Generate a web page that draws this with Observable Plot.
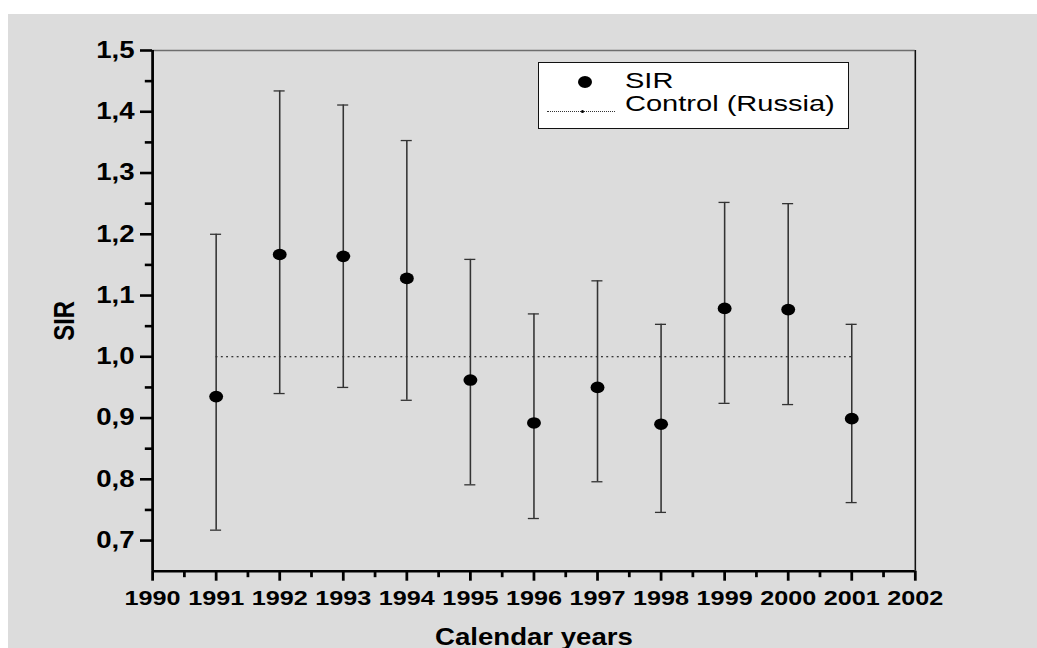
<!DOCTYPE html>
<html>
<head>
<meta charset="utf-8">
<script src="https://cdn.jsdelivr.net/npm/d3@7"></script>
<script src="https://cdn.jsdelivr.net/npm/@observablehq/plot@0.6"></script>
<style>
  html, body { margin: 0; padding: 0; background: #ffffff; }
  #page { position: relative; width: 1037px; height: 648px; overflow: hidden; background: #fff; }
  #panel { position: absolute; left: 8px; top: 14px; width: 1029px; height: 634px; background: #dcdcdc; }
  #legend { position: absolute; left: 530px; top: 48px; width: 311px; height: 67px; box-sizing: border-box;
            background: #fff; border: 1.5px solid #111; font-family: 'Liberation Sans', Arial, sans-serif; }
  #legend .txt { position: absolute; left: 86px; font-size: 22px; line-height: 22px; white-space: nowrap;
                 transform: scaleX(1.32); transform-origin: 0 50%; color: #000; }
  #legend .bigdot { position: absolute; left: 39px; top: 12.5px; width: 14px; height: 12px; border-radius: 50%; background: #000; }
  #legend .dline { position: absolute; left: 8px; top: 48px; width: 68px; height: 0; border-top: 1px dotted #333; }
  #legend .smalldot { position: absolute; left: 42px; top: 47px; width: 3px; height: 3px; border-radius: 50%; background: #000; }
</style>
</head>
<body>
<div id="page"><div id="panel"><div id="chart"></div>
  <div id="legend">
    <div class="bigdot"></div><div class="txt" id="lg1" style="top:6.5px"></div>
    <div class="dline"></div><div class="smalldot"></div><div class="txt" id="lg2" style="top:30px"></div>
  </div>
</div></div>
<script>
// ---- data ----
const years = [1991, 1992, 1993, 1994, 1995, 1996, 1997, 1998, 1999, 2000, 2001];
const sir   = [0.935, 1.167, 1.164, 1.128, 0.962, 0.892, 0.950, 0.890, 1.079, 1.077, 0.899];
const lower = [0.717, 0.940, 0.950, 0.929, 0.791, 0.736, 0.796, 0.746, 0.924, 0.922, 0.762];
const upper = [1.200, 1.434, 1.411, 1.353, 1.159, 1.070, 1.124, 1.053, 1.252, 1.250, 1.053];
const controlValue = 1.0;
const xTicks = [1990, 1991, 1992, 1993, 1994, 1995, 1996, 1997, 1998, 1999, 2000, 2001, 2002];
const xMinorTicks = [1990.5, 1991.5, 1992.5, 1993.5, 1994.5, 1995.5, 1996.5, 1997.5, 1998.5, 1999.5, 2000.5, 2001.5];
const yTicks = [0.7, 0.8, 0.9, 1.0, 1.1, 1.2, 1.3, 1.4, 1.5];
const yMinorTicks = [0.75, 0.85, 0.95, 1.05, 1.15, 1.25, 1.35, 1.45];
const xDomain = [1990, 2002];
const yDomain = [0.65, 1.5];
const xTitle = "Calendar years";
const yTitle = "SIR";
const legendLabels = ["SIR", "Control (Russia)"];

const data = years.map((year, i) => ({year, sir: sir[i], lo: lower[i], hi: upper[i]}));

// ---- layout ----
const W = 1029, H = 634, SX = 1.2;   // reference is horizontally stretched
const PW = W / SX;
const capHalf = 0.087;
const commaFmt = d => d.toFixed(1).replace(".", ",");

const chart = Plot.plot({
  width: PW,
  height: H,
  marginLeft: 120,
  marginRight: PW - 755.6,
  marginTop: 36,
  marginBottom: 77.3,
  x: {domain: xDomain, label: null},
  y: {domain: yDomain, label: null},
  style: {background: "transparent", fontFamily: "'Liberation Sans', Arial, sans-serif", color: "#000", overflow: "visible"},
  marks: [
    Plot.ruleY([yDomain[1]], {stroke: "#6e6e6e", strokeWidth: 1.6}),
    Plot.ruleX([xDomain[1]], {stroke: "#111", strokeWidth: 1.3}),
    Plot.ruleY([controlValue], {x1: years[0], x2: years[years.length - 1], stroke: "#000", strokeWidth: 1, strokeDasharray: "1.6 2.8"}),
    Plot.ruleX(data, {x: "year", y1: "lo", y2: "hi", stroke: "#333", strokeWidth: 1.3}),
    Plot.ruleY(data, {y: "hi", x1: d => d.year - capHalf, x2: d => d.year + capHalf, stroke: "#333", strokeWidth: 1.3}),
    Plot.ruleY(data, {y: "lo", x1: d => d.year - capHalf, x2: d => d.year + capHalf, stroke: "#333", strokeWidth: 1.3}),
    Plot.dot(data, {x: "year", y: "sir", r: 5.8, fill: "#000", stroke: null}),
    // axes lines
    Plot.ruleX([xDomain[0]], {stroke: "#000", strokeWidth: 2.3}),
    Plot.ruleY([yDomain[0]], {stroke: "#000", strokeWidth: 2.6}),
    // x axis
    Plot.axisX({ticks: xTicks, tickFormat: d => String(d), tickSize: 10, tickPadding: 9, fontSize: 21, fontWeight: "bold", strokeWidth: 2.3, label: null}),
    Plot.axisX({ticks: xMinorTicks, tickFormat: () => "", tickSize: 6.5, strokeWidth: 2.3, label: null}),
    // y axis
    Plot.axisY({ticks: yTicks, tickFormat: commaFmt, tickSize: 10, tickPadding: 5, fontSize: 23, fontWeight: "bold", strokeWidth: 2.6, label: null}),
    Plot.axisY({ticks: yMinorTicks, tickFormat: () => "", tickSize: 6, strokeWidth: 2.6, label: null}),
    // titles
    Plot.text([xTitle], {text: d => d, frameAnchor: "bottom", dy: 66, fontSize: 23, fontWeight: "bold", lineAnchor: "middle", fill: "#000"}),
    Plot.text([yTitle], {text: d => d, frameAnchor: "left", dx: -73, dy: 30, rotate: -90, fontSize: 24, fontWeight: "bold", lineAnchor: "middle", fill: "#000"})
  ]
});

chart.setAttribute("width", W);
chart.setAttribute("height", H);
chart.setAttribute("preserveAspectRatio", "none");
chart.style.width = W + "px";
chart.style.height = H + "px";
chart.style.maxWidth = "none";
document.getElementById("chart").appendChild(chart);
document.getElementById("lg1").textContent = legendLabels[0];
document.getElementById("lg2").textContent = legendLabels[1];
</script>
</body>
</html>
